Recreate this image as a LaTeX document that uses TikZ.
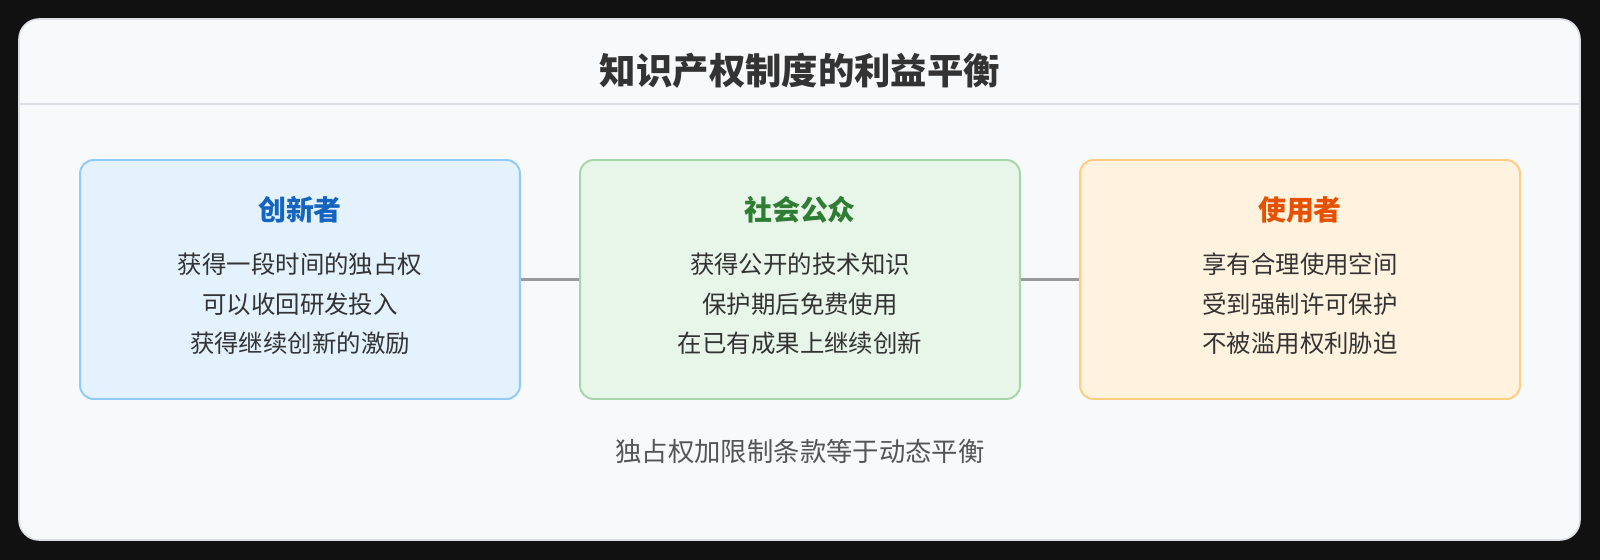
\documentclass[tikz,border=0pt]{standalone}
\usepackage{fontspec}
\setmainfont{Noto Sans CJK SC}
\definecolor{pagedark}{HTML}{111111}
\definecolor{cardbg}{HTML}{F8F9FB}
\definecolor{cardline}{HTML}{DCDFE5}
\definecolor{txtdark}{HTML}{333333}
\definecolor{txtgray}{HTML}{555555}
\definecolor{bluefill}{HTML}{E3F2FD}
\definecolor{blueline}{HTML}{90CAF9}
\definecolor{bluetxt}{HTML}{1565C0}
\definecolor{greenfill}{HTML}{E8F5E9}
\definecolor{greenline}{HTML}{A5D6A7}
\definecolor{greentxt}{HTML}{2E7D32}
\definecolor{orangefill}{HTML}{FFF3E0}
\definecolor{orangeline}{HTML}{FFCC80}
\definecolor{orangetxt}{HTML}{E65100}
\definecolor{linkgray}{HTML}{999999}

\begin{document}
\begin{tikzpicture}[x=0.02cm, y=-0.02cm,
    party/.style={draw, line width=1.1pt, rounded corners=0.27cm,
        minimum width=8.8cm, minimum height=4.78cm, inner sep=0pt},
    partytitle/.style={font=\fontsize{15.9}{19}\selectfont\bfseries},
    point/.style={font=\fontsize{13.9}{17}\selectfont, text=txtdark},
    link/.style={draw=linkgray, line width=1.9pt}]
    % background and card
    \fill[pagedark] (0,0) rectangle (1600,560);
    \filldraw[fill=cardbg, draw=cardline, line width=0.9pt, rounded corners=0.4cm]
        (19,19) rectangle (1580,540);
    \draw[cardline, line width=1.1pt] (19,104) -- (1580,104);
    \node[font=\fontsize{20.7}{25}\selectfont\bfseries, text=txtdark] (title) at (800,70.5) {知识产权制度的利益平衡};

    % three parties
    \node[party, fill=bluefill, draw=blueline] (inno) at (300,279.5) {};
    \node[party, fill=greenfill, draw=greenline] (pub) at (800,279.5) {};
    \node[party, fill=orangefill, draw=orangeline] (user) at (1300,279.5) {};

    \node[partytitle, text=bluetxt] (innot) at (300,210) {创新者};
    \node[point] (inno1) at (300,264) {获得一段时间的独占权};
    \node[point] (inno2) at (300,304) {可以收回研发投入};
    \node[point] (inno3) at (300,343.5) {获得继续创新的激励};

    \node[partytitle, text=greentxt] (pubt) at (800,210) {社会公众};
    \node[point] (pub1) at (800,264) {获得公开的技术知识};
    \node[point] (pub2) at (800,304) {保护期后免费使用};
    \node[point] (pub3) at (800,343.5) {在已有成果上继续创新};

    \node[partytitle, text=orangetxt] (usert) at (1300,210) {使用者};
    \node[point] (user1) at (1300,264) {享有合理使用空间};
    \node[point] (user2) at (1300,304) {受到强制许可保护};
    \node[point] (user3) at (1300,343.5) {不被滥用权利胁迫};

    % links
    \draw[link] (inno.east) -- (pub.west);
    \draw[link] (pub.east) -- (user.west);

    \node[font=\fontsize{15}{18}\selectfont, text=txtgray] (note) at (800,451) {独占权加限制条款等于动态平衡};
\end{tikzpicture}
\end{document}
